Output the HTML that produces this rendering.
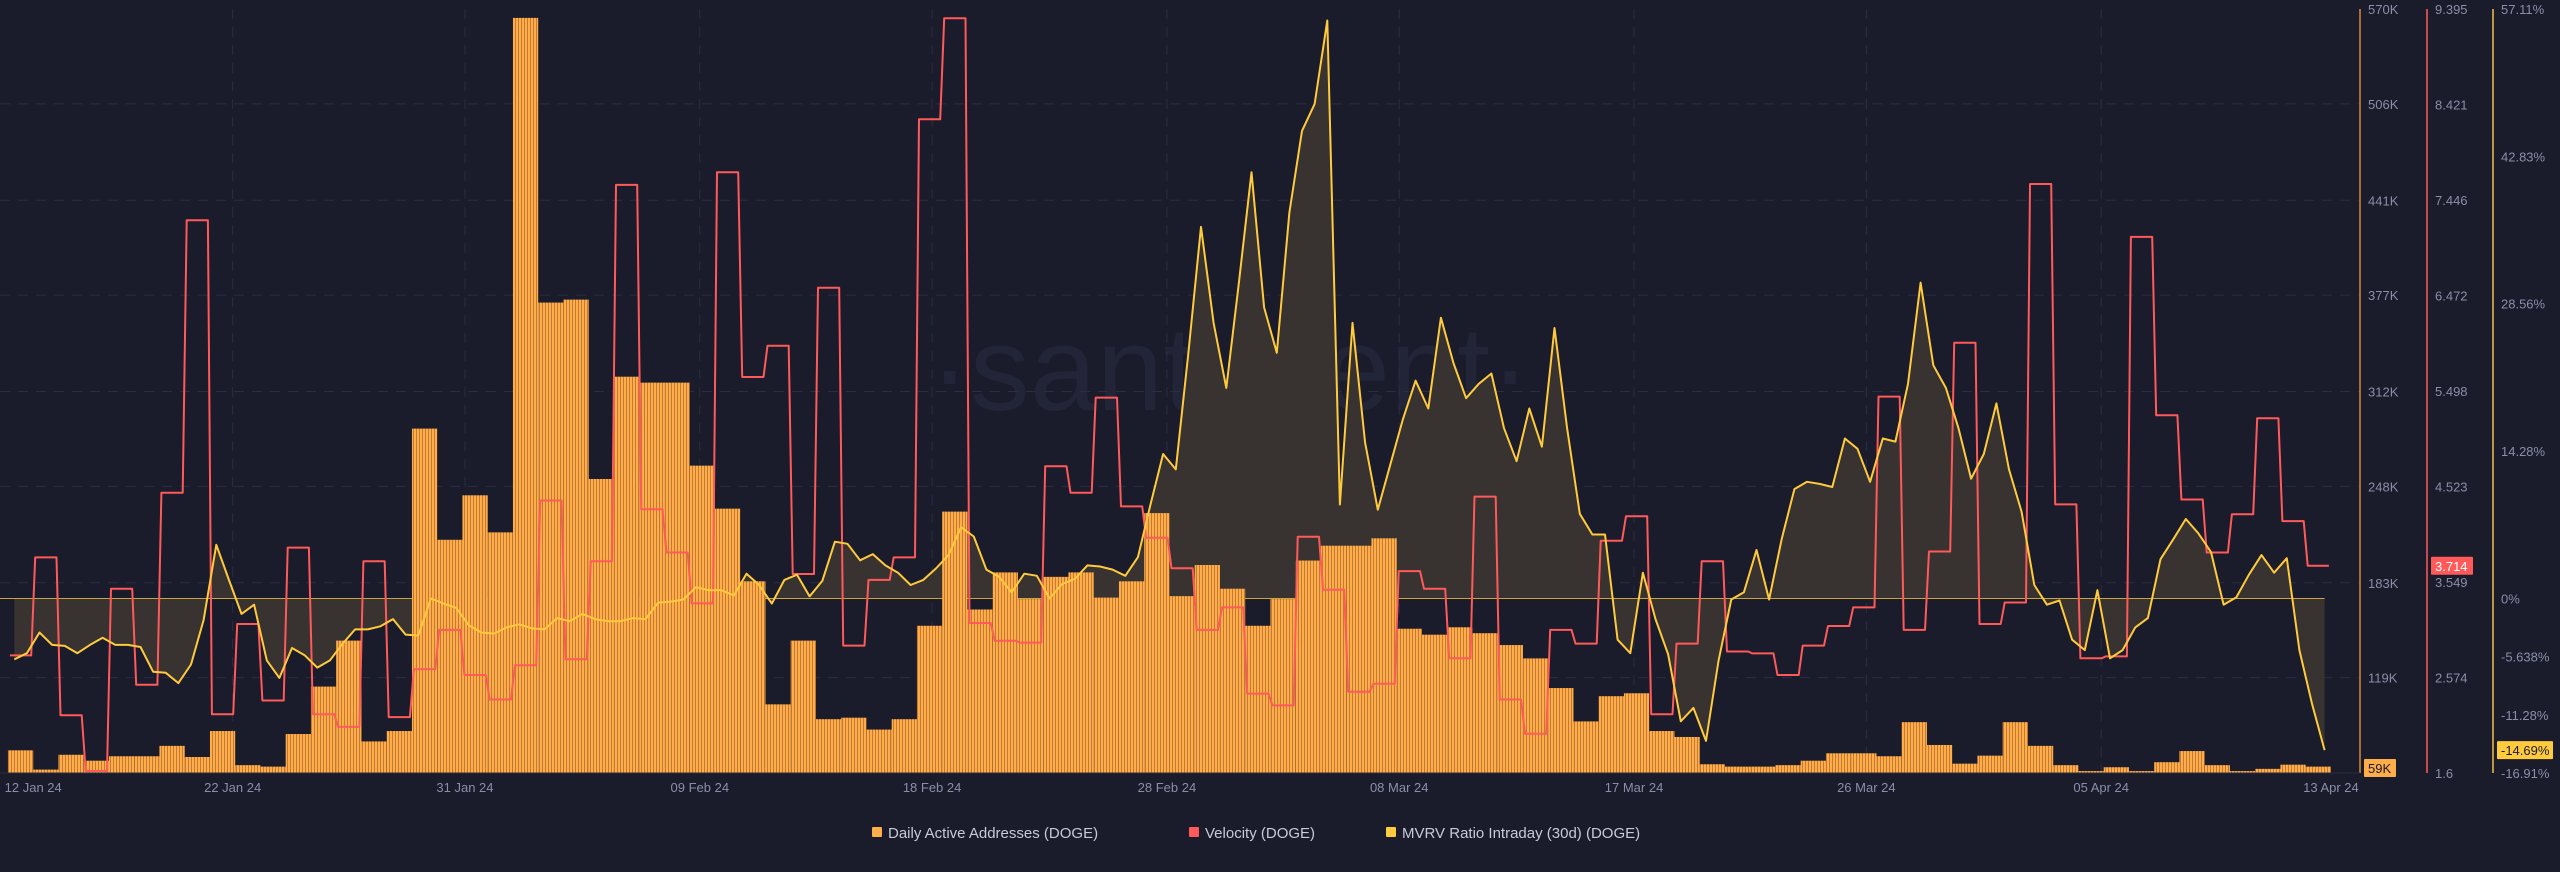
<!DOCTYPE html>
<html><head><meta charset="utf-8"><style>
html,body{margin:0;padding:0;background:#1a1b2b;}
body{width:2560px;height:867px;overflow:hidden;font-family:"Liberation Sans",sans-serif;}
svg text{font-family:"Liberation Sans",sans-serif;}
</style></head><body>
<svg id="chart" width="2560" height="867" viewBox="0 0 2560 867" xmlns="http://www.w3.org/2000/svg">
<defs>
<pattern id="stripes" width="3" height="10" patternUnits="userSpaceOnUse">
<rect x="0" y="0" width="2" height="10" fill="#ffad48"/>
<rect x="2" y="0" width="1" height="10" fill="#c27a35"/>
</pattern>
</defs>
<rect width="2560" height="867" fill="#1a1b2b"/>
<text x="1230" y="410" text-anchor="middle" font-size="120" fill="#222538">·santiment·</text>
<g id="grid"></g>
<g id="fill"></g>
<g id="bars"></g>
<g id="lines"></g>
<g id="axes"></g>
<g id="legend"></g>
</svg>
<script>
const NS="http://www.w3.org/2000/svg";
const dateLabels=["12 Jan 24","22 Jan 24","31 Jan 24","09 Feb 24","18 Feb 24","28 Feb 24","08 Mar 24","17 Mar 24","26 Mar 24","05 Apr 24","13 Apr 24"];
const dateDays=[1,8.9,18.1,27.4,36.6,45.9,55.1,64.4,73.6,82.9,92];
const addrTicks=["570K","506K","441K","377K","312K","248K","183K","119K"];
const addrTickVals=[570,506,441,377,312,248,183,119];
const velTicks=["9.395","8.421","7.446","6.472","5.498","4.523","3.549","2.574","1.6"];
const velTickVals=[9.395,8.421,7.446,6.472,5.498,4.523,3.549,2.574,1.6];
const mvrvTicks=["57.11%","42.83%","28.56%","14.28%","0%","-5.638%","-11.28%","-16.91%"];
const mvrvTickVals=[57.11,42.83,28.56,14.28,0,-5.638,-11.28,-16.91];
// Daily active addresses (K)
const activeAddresses=[70,57,67,63,66,66,73,65.5,83,60,59,81,113,144,76,83,287,212,242,217,564,372,374,253,322,318,318,262,233,184,101,144,91,92,84,91,154,231,165,190,172,187,190,173,184,230,174,195,179,154,172,198,208,208,213,152,148,153,149,141,132,112,89.5,106.5,108.5,83,79,60.6,59,59,60,63,68,68,66,89,73.6,61,66.4,89,73,60,56,58.6,56,62,69.5,60,56,57.5,60.3,59];
// Velocity per day
const velocity=[2.80,3.80,2.19,1.62,3.48,2.50,4.46,7.24,2.20,3.12,2.34,3.90,2.20,2.07,3.76,2.17,2.66,3.06,2.60,2.35,2.70,4.38,2.76,3.76,7.60,4.29,3.85,3.33,7.73,5.64,5.96,3.63,6.55,2.90,3.57,3.80,8.27,9.30,3.13,2.95,2.93,4.73,4.46,5.43,4.32,4.00,3.69,3.06,3.29,2.41,2.29,4.01,3.47,2.43,2.51,3.66,3.48,2.77,4.42,2.35,2.00,3.06,2.92,3.97,4.22,2.20,2.92,3.76,2.84,2.82,2.60,2.90,3.10,3.29,5.44,3.06,3.86,5.99,3.12,3.34,7.61,4.34,2.77,2.79,7.07,5.25,4.39,3.85,4.24,5.22,4.17,3.714];
// MVRV intraday (%), two samples per day
const mvrv=[-5.9,-5.3,-3.3,-4.5,-4.6,-5.3,-4.5,-3.8,-4.5,-4.5,-4.7,-7.1,-7.2,-8.2,-6.4,-2.1,5.2,1.8,-1.5,-0.6,-6.0,-7.7,-4.8,-5.5,-6.7,-6.0,-4.4,-3.0,-3.0,-2.7,-2.0,-3.5,-3.6,0.0,-0.5,-0.9,-2.6,-3.3,-3.4,-2.8,-2.5,-2.9,-3.0,-1.9,-2.2,-1.5,-2.0,-2.2,-2.2,-1.9,-2.0,-0.4,-0.3,-0.1,1.1,0.8,0.8,0.3,2.4,1.3,-0.5,1.8,2.3,0.2,1.7,5.5,5.3,3.7,4.3,3.2,2.5,1.3,1.8,2.9,4.2,6.9,6.0,2.8,2.1,0.6,2.4,2.2,0.0,1.4,1.9,3.2,3.1,2.8,2.2,4.0,9.1,14.0,12.5,23.8,36.0,26.7,20.4,30.6,41.3,28.2,23.8,37.4,45.3,47.9,56.0,9.1,26.7,15.1,8.6,13.0,17.4,21.1,18.4,27.2,22.8,19.4,20.8,21.8,16.5,13.3,18.4,14.7,26.2,16.5,8.2,6.2,6.2,-4.0,-5.3,2.5,-2.0,-5.4,-11.9,-10.6,-13.8,-6.0,-0.1,0.6,4.7,-0.1,5.8,10.6,11.3,11.1,10.8,15.5,14.5,11.3,15.5,15.2,20.8,30.6,22.6,20.4,16.5,11.6,14.0,18.9,12.5,8.4,1.3,-0.6,-0.2,-4.0,-5.0,0.8,-5.8,-5.0,-2.8,-1.9,3.8,5.7,7.7,6.3,4.5,-0.6,0.1,2.3,4.2,2.5,3.9,-5.0,-10.2,-14.69];

const TOP=9,BOT=773,X0=7.95,DAYW=25.25;
const xScale=d=>X0+d*DAYW;
const yAddr=v=>BOT-(v-54.7)/(570-54.7)*(BOT-TOP);
const yVel=v=>BOT-(v-1.6)/(9.395-1.6)*(BOT-TOP);
const yMv=v=>BOT-(v+16.91)/(57.11+16.91)*(BOT-TOP);
function el(tag,attrs,parent){const e=document.createElementNS(NS,tag);for(const k in attrs)e.setAttribute(k,attrs[k]);parent.appendChild(e);return e;}
const grid=document.getElementById('grid'),fillG=document.getElementById('fill'),barsG=document.getElementById('bars'),linesG=document.getElementById('lines'),axesG=document.getElementById('axes'),legG=document.getElementById('legend');

// grid
addrTickVals.forEach((v,i)=>{if(i===0)return;const y=yAddr(v);
const g=el('line',{x1:0,x2:2360,y1:y,y2:y,stroke:'#2b2e42','stroke-dasharray':'10 8','stroke-width':1},grid);

});
dateDays.forEach((d,i)=>{if(i===0||i===dateDays.length-1)return;const x=xScale(d);
const g=el('line',{x1:x,x2:x,y1:TOP,y2:BOT,stroke:'#2b2e42','stroke-dasharray':'10 8','stroke-width':1},grid);

});

// mvrv fill
const mvX=k=>xScale(k/2+0.25);
let fd=`M${mvX(0)},${yMv(0)} `;mvrv.forEach((v,k)=>{fd+=`L${mvX(k).toFixed(1)},${yMv(v).toFixed(1)} `;});fd+=`L${mvX(mvrv.length-1)},${yMv(0)} Z`;
const fa=el('path',{d:fd,fill:'#3a3430',opacity:0.95},fillG);


const zl=el('line',{x1:0,x2:mvX(mvrv.length-1),y1:yMv(0),y2:yMv(0),stroke:'#c9a440','stroke-width':1},fillG);



// bars
activeAddresses.forEach((v,i)=>{const x=Math.max(0,xScale(i));const x2=xScale(i+1);const y=yAddr(v);
const r=el('rect',{x:x,y:y,width:x2-x,height:BOT-y,fill:'url(#stripes)'},barsG);

});

// velocity step line
let vd='';velocity.forEach((v,i)=>{const xa=Math.max(0,xScale(i)+2),xb=xScale(i+1)-2,y=yVel(v);vd+=(i===0?'M':'L')+`${xa.toFixed(1)},${y.toFixed(1)} L${xb.toFixed(1)},${y.toFixed(1)} `;});
const vl=el('path',{d:vd,fill:'none',stroke:'#ff5a5a','stroke-width':2,'stroke-linejoin':'round'},linesG);



// mvrv line
let md='';mvrv.forEach((v,k)=>{md+=(k===0?'M':'L')+`${mvX(k).toFixed(1)},${yMv(v).toFixed(1)} `;});
const ml=el('path',{d:md,fill:'none',stroke:'#ffcb3d','stroke-width':2,'stroke-linejoin':'round'},linesG);



// axes
[[2360,'#d4893a'],[2427,'#ff5a5a'],[2493,'#f5c04a']].forEach(([x,c])=>{
const a=el('line',{x1:x,x2:x,y1:TOP,y2:BOT,stroke:c,'stroke-width':1.5},axesG);

});
const bl=el('line',{x1:0,x2:2360,y1:BOT,y2:BOT,stroke:'#2b2e42','stroke-width':1},axesG);


addrTickVals.forEach((v,i)=>{const t=el('text',{x:2368,y:yAddr(v)+5,'font-size':13,fill:'#8a8fa8'},axesG);t.textContent=addrTicks[i];

});
velTickVals.forEach((v,i)=>{const t=el('text',{x:2435,y:yVel(v)+5,'font-size':13,fill:'#8a8fa8'},axesG);t.textContent=velTicks[i];

});
mvrvTickVals.forEach((v,i)=>{const t=el('text',{x:2501,y:yMv(v)+5,'font-size':13,fill:'#8a8fa8'},axesG);t.textContent=mvrvTicks[i];

});
dateDays.forEach((d,i)=>{const t=el('text',{x:xScale(d),y:792,'font-size':13,fill:'#8a8fa8','text-anchor':'middle'},axesG);t.textContent=dateLabels[i];

});

// badges
function badge(x,y,w,bg,fg,txt,name){const g=el('g',{},axesG);


el('rect',{x:x,y:y-9,width:w,height:18,fill:bg,rx:1},g);
const t=el('text',{x:x+4,y:y+5,'font-size':13,fill:fg},g);t.textContent=txt;}
badge(2364,768,32,'#ffad48','#1a1b2b','59K','addresses-last-value-badge');
badge(2431,yVel(velocity[velocity.length-1]),42,'#ff5a5a','#ffffff','3.714','velocity-last-value-badge');
badge(2497,yMv(mvrv[mvrv.length-1]),56,'#ffcb3d','#1a1b2b','-14.69%','mvrv-last-value-badge');

// legend
const legendItems=[["Daily Active Addresses (DOGE)",'#ffad48',872],["Velocity (DOGE)",'#ff5a5a',1189],["MVRV Ratio Intraday (30d) (DOGE)",'#ffcb3d',1386]];
legendItems.forEach(([txt,c,x])=>{const g=el('g',{},legG);


el('rect',{x:x,y:827,width:10,height:10,fill:c,rx:1},g);
const t=el('text',{x:x+16,y:838,'font-size':15,fill:'#c8cad8'},g);t.textContent=txt;});
</script>
</body></html>
